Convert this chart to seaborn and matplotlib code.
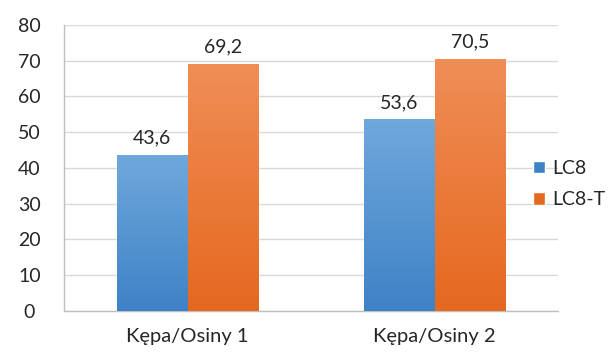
import matplotlib
matplotlib.use("Agg")
import matplotlib.pyplot as plt
import numpy as np
import pandas as pd
import seaborn as sns
from matplotlib.colors import LinearSegmentedColormap
from matplotlib.patches import Patch

# Chart data
sites = ["Kępa/Osiny 1", "Kępa/Osiny 2"]
series = ["LC8", "LC8-T"]
lc8 = [43.6, 53.6]
lc8_t = [69.2, 70.5]

# Gradient colours (top, bottom) for each series
grad = {
    "LC8": ("#6fa8dc", "#3e82c6"),
    "LC8-T": ("#f08e57", "#e5681f"),
}

df = pd.DataFrame({
    "site": sites * 2,
    "series": [series[0]] * 2 + [series[1]] * 2,
    "value": lc8 + lc8_t,
})

sns.set_style("white")
plt.rcParams["font.family"] = ["Lato", "DejaVu Sans"]
text_color = "#262626"

fig = plt.figure(figsize=(6.08, 3.54), dpi=100)
ax = fig.add_axes([0.1053, 0.1215, 0.8125, 0.8079])

palette = {s: grad[s][1] for s in series}
sns.barplot(data=df, x="site", y="value", hue="series", order=sites,
            hue_order=series, palette=palette, width=0.57, saturation=1,
            legend=False, ax=ax, zorder=2)

# Paint vertical gradient over each bar
for container, name in zip(ax.containers, series):
    cmap = LinearSegmentedColormap.from_list(name, [grad[name][1], grad[name][0]])
    for bar in container:
        x0, y0 = bar.get_x(), bar.get_y()
        w, h = bar.get_width(), bar.get_height()
        g = np.linspace(0, 1, 256).reshape(-1, 1)
        im = ax.imshow(g, cmap=cmap, aspect="auto", origin="lower",
                       extent=(x0, x0 + w, y0, y0 + h), zorder=3)
        im.set_clip_path(bar)
    ax.bar_label(container, labels=[f"{v:.1f}".replace(".", ",") for v in container.datavalues],
                 padding=6, fontsize=14, color=text_color, zorder=4)

ax.set_xlim(-0.5, 1.5)
ax.set_ylim(0, 80)
ax.set_yticks(np.arange(0, 81, 10))
ax.yaxis.grid(True, color="#d9d9d9", linewidth=1, zorder=0)
ax.set_axisbelow(True)

# Category boundary ticks on x axis
ax.set_xticks([0, 1])
ax.set_xticklabels(sites, fontsize=14.5, color=text_color)
ax.set_xticks([-0.5, 0.5, 1.5], minor=True)
ax.tick_params(axis="x", which="major", length=0, pad=12)
ax.tick_params(axis="x", which="minor", length=6, color="#bfbfbf", width=1)
ax.tick_params(axis="y", length=6, color="#d9d9d9", width=1, labelsize=14,
               labelcolor=text_color, pad=19)
for lbl in ax.get_yticklabels():
    lbl.set_horizontalalignment("center")

for side in ["top", "right"]:
    ax.spines[side].set_visible(False)
for side in ["left", "bottom"]:
    ax.spines[side].set_color("#bfbfbf")
    ax.spines[side].set_linewidth(1)

ax.set_xlabel("")
ax.set_ylabel("")

handles = [Patch(facecolor=grad[s][1], label=s) for s in series]
leg = ax.legend(handles=handles, loc="center left", bbox_to_anchor=(0.949, 0.444),
                frameon=False, fontsize=14, handlelength=0.62, handleheight=0.62,
                handletextpad=0.4, labelspacing=0.75, borderpad=0, borderaxespad=0)
for t in leg.get_texts():
    t.set_color(text_color)

fig.savefig("out.png", dpi=100)
